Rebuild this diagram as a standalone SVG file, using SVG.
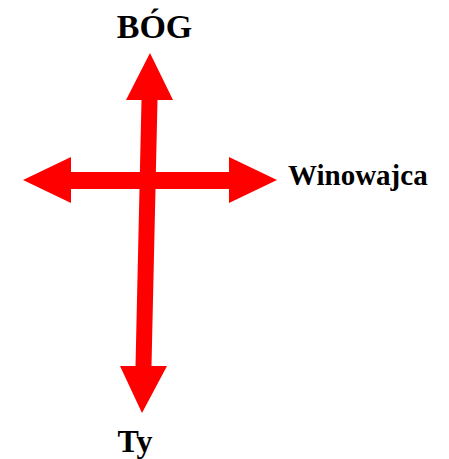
<svg xmlns="http://www.w3.org/2000/svg" width="449" height="459" viewBox="0 0 449 459">
<style>
.lbl{font-family:"Liberation Serif","Times New Roman",serif;font-weight:bold;fill:#000}
.arr{fill:#ff0000;stroke:none}
</style>
<rect width="449" height="459" fill="#fff"/>
<g id="connectors">
<polygon id="horizontal" class="arr" points="23,180 71,157 71,172 229,172 229,157 277,180 229,203 229,189 71,189 71,203"/>
<polygon id="vertical" class="arr" points="150,53 173,100 157.5,100 151.5,366 167,366 142,413 120,366 135.5,366 141.5,100 126,100"/>
</g>
<g id="bog"><text class="lbl" x="154.5" y="38" font-size="34" text-anchor="middle">BÓG</text></g>
<g id="winowajca"><text class="lbl" x="288" y="185" font-size="29">Winowajca</text></g>
<g id="ty"><text class="lbl" x="135" y="452" font-size="32" text-anchor="middle">Ty</text></g>
</svg>
